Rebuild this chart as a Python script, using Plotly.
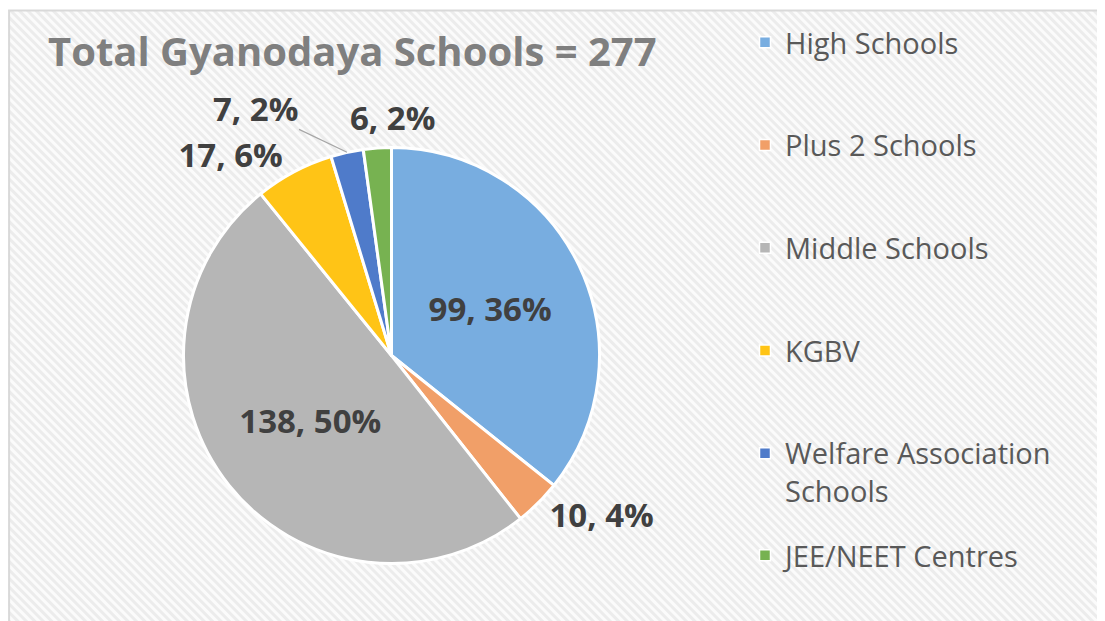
import base64
import math
import plotly.graph_objects as go

# ---- data ----
categories = ["High Schools", "Plus 2 Schools", "Middle Schools", "KGBV",
              "Welfare Association<br>Schools", "JEE/NEET Centres"]
values = [99, 10, 138, 17, 7, 6]
pct_labels = ["36%", "4%", "50%", "6%", "2%", "2%"]
colors = ["#78ade0", "#f19f68", "#b6b6b6", "#ffc416", "#4f7bca", "#77b251"]
title_text = "Total Gyanodaya Schools = 277"

# page body has an 8px margin; figure sized to fit the 1105x621 window
OFF = 8
W, H = 1105 - OFF, 621 - OFF


def px(x):
    return (x - OFF) / W


def py(y):
    return 1 - (y - OFF) / H


# pie geometry in page pixels
cx, cy, r = 391.5, 355.5, 208
dom_x = [px(cx - r), px(cx + r)]
dom_y = [py(cy + r), py(cy - r)]

# hatched chart-area background
hatch_svg = (
    "<svg xmlns='http://www.w3.org/2000/svg' width='1100' height='612'>"
    "<defs><pattern id='p' width='6' height='6' patternUnits='userSpaceOnUse' "
    "patternTransform='rotate(-45)'>"
    "<rect width='6' height='6' fill='#fbfbfb'/><rect width='3' height='6' fill='#ececec'/>"
    "</pattern></defs><rect width='100%' height='100%' fill='url(#p)'/></svg>"
)
hatch_uri = "data:image/svg+xml;base64," + base64.b64encode(hatch_svg.encode()).decode()

text_labels = [f"{v}, {p}" for v, p in zip(values, pct_labels)]
label_font = dict(family="Open Sans", size=33, color="#404040", weight="bold")

fig = go.Figure()
fig.add_trace(go.Pie(
    labels=categories,
    values=values,
    customdata=pct_labels,
    sort=False,
    direction="clockwise",
    rotation=0,
    marker=dict(colors=colors, line=dict(color="white", width=3)),
    texttemplate="%{value}, %{customdata}",
    textposition=["inside", "outside", "inside", "outside", "none", "none"],
    insidetextorientation="horizontal",
    textfont=label_font,
    domain=dict(x=dom_x, y=dom_y),
    showlegend=False,
    hoverinfo="label+value+percent",
))

# legend entries
for i, (name, col) in enumerate(zip(categories, colors)):
    fig.add_trace(go.Scatter(
        x=[None], y=[None], mode="markers", name=name,
        marker=dict(symbol="square", size=11, color=col, line=dict(color="white", width=1.5)),
        legendgroup=f"g{i}",
        legend="legend2" if i == len(categories) - 1 else "legend",
    ))

# labels for the two thin slices (placed from the slice mid-angles)
total = sum(values)
cum = 0
mid_angles = []
for v in values:
    mid_angles.append((cum + v / 2) / total * 2 * math.pi)
    cum += v

annotations = [dict(text=title_text, xref="paper", yref="paper",
                    x=px(46), y=py(50), xanchor="left", yanchor="middle",
                    showarrow=False,
                    font=dict(family="Open Sans", size=40, color="#7f7f7f", weight="bold"))]
label_offsets = {4: (-92, -44, "#a6a6a6"), 5: (15, -30, "rgba(0,0,0,0)")}
for i, (ax, ay, acol) in label_offsets.items():
    a = mid_angles[i]
    tip_x = cx + r * math.sin(a)
    tip_y = cy - r * math.cos(a)
    annotations.append(dict(
        text=text_labels[i], xref="paper", yref="paper",
        x=px(tip_x), y=py(tip_y), ax=ax, ay=ay,
        showarrow=True, arrowhead=0, arrowwidth=1.2, arrowcolor=acol,
        font=label_font,
    ))

legend_font = dict(family="Open Sans", size=29, color="#595959")
fig.update_layout(
    width=W, height=H,
    margin=dict(l=0, r=0, t=0, b=0),
    paper_bgcolor="white",
    plot_bgcolor="rgba(0,0,0,0)",
    xaxis=dict(visible=False),
    yaxis=dict(visible=False),
    images=[dict(source=hatch_uri, xref="paper", yref="paper",
                 x=0, y=py(10), sizex=1, sizey=1,
                 xanchor="left", yanchor="top", sizing="stretch", layer="below")],
    shapes=[dict(type="rect", xref="paper", yref="paper",
                 x0=0.001, x1=1.05, y0=-0.05, y1=py(10.5),
                 line=dict(color="#d9d9d9", width=2), fillcolor="rgba(0,0,0,0)", layer="below")],
    annotations=annotations,
    legend=dict(x=px(745), y=py(17), xanchor="left", yanchor="top",
                font=legend_font, bgcolor="rgba(0,0,0,0)", traceorder="grouped",
                tracegroupgap=62, valign="top", itemclick=False),
    legend2=dict(x=px(745), y=py(530), xanchor="left", yanchor="top",
                 font=legend_font, bgcolor="rgba(0,0,0,0)", valign="top"),
)

fig.write_html("out.html")
